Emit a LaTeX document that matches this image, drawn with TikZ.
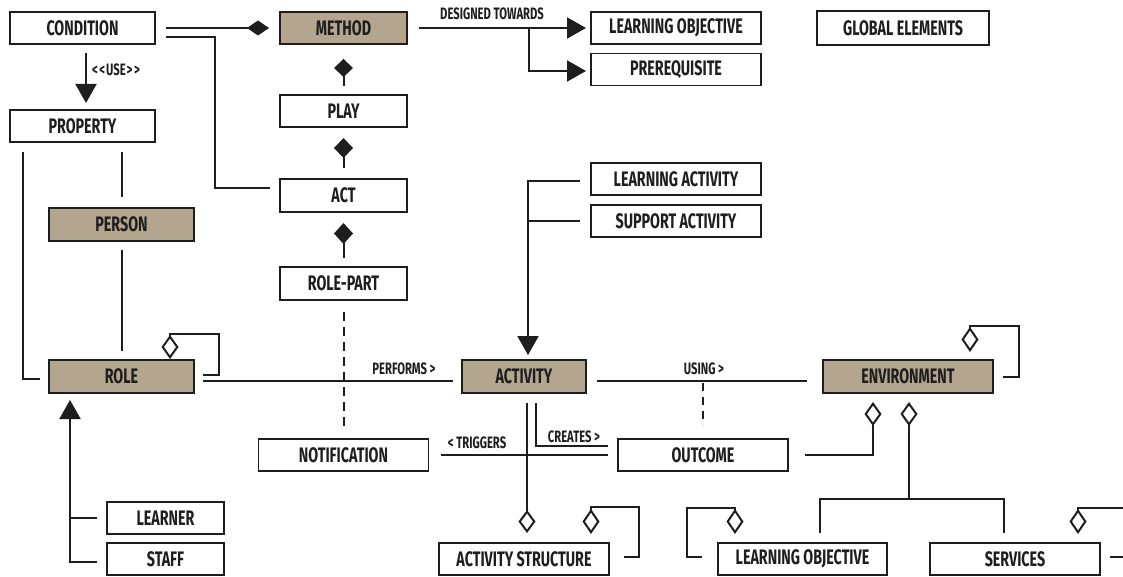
\documentclass[tikz,border=0pt]{standalone}
\usepackage{fontspec}
\usetikzlibrary{arrows.meta,calc}
\newfontfamily\cfont[FakeStretch=0.68]{Fira Sans}
\definecolor{tan}{RGB}{180,165,143}
\definecolor{ink}{RGB}{30,30,30}
\begin{document}
\begin{tikzpicture}[x=1pt,y=-1pt,
  box/.style={draw=ink, line width=1.9pt, fill=white, minimum height=32, inner sep=0, outer sep=0,
    font=\cfont\bfseries\fontsize{21}{21}\selectfont, text=ink},
  tanbox/.style={box, fill=tan},
  lbl/.style={font=\cfont\bfseries\fontsize{16.5}{16.5}\selectfont, inner sep=0, text=ink},
  conn/.style={draw=ink, line width=2pt},
  arr/.style={conn, -{Triangle[length=19pt,width=21pt]}}]
\useasboundingbox (0,0) rectangle (1123,577);
\clip (0,0) rectangle (1123,577);
\fill[white] (0,0) rectangle (1123,577);

% nodes
\node[box, minimum width=145] (cond) at (82.5,28) {CONDITION};
\node[tanbox, minimum width=127] (method) at (343.5,28) {METHOD};
\node[box, minimum width=127] (play) at (343.5,111) {PLAY};
\node[box, minimum width=145] (property) at (82.5,126) {PROPERTY};
\node[box, minimum width=170] (lo1) at (676,28) {LEARNING OBJECTIVE};
\node[box, minimum width=170] (pre) at (676,69.5) {PREREQUISITE};
\node[box, minimum width=172, minimum height=34] (global) at (903,28) {GLOBAL ELEMENTS};
\node[box, minimum width=127, minimum height=33] (act) at (343.5,195.5) {ACT};
\node[tanbox, minimum width=145, minimum height=33] (person) at (121.5,224.5) {PERSON};
\node[box, minimum width=127, minimum height=33] (rolepart) at (343.5,283.5) {ROLE-PART};
\node[tanbox, minimum width=145, minimum height=33] (role) at (121.5,376.5) {ROLE};
\node[box, minimum width=170] (la) at (676,179) {LEARNING ACTIVITY};
\node[box, minimum width=170] (sa) at (676,221) {SUPPORT ACTIVITY};
\node[tanbox, minimum width=124, minimum height=33] (activity) at (524,376.5) {ACTIVITY};
\node[tanbox, minimum width=170, minimum height=33] (env) at (908,376.5) {ENVIRONMENT};
\node[box, minimum width=170] (notif) at (343.5,455) {NOTIFICATION};
\node[box, minimum width=170] (outcome) at (703,455) {OUTCOME};
\node[box, minimum width=117] (learner) at (165.5,518) {LEARNER};
\node[box, minimum width=117] (staff) at (165.5,559) {STAFF};
\node[box, minimum width=170] (as) at (524,559) {ACTIVITY STRUCTURE};
\node[box, minimum width=169] (lo2) at (802.5,559) {LEARNING OBJECTIVE};
\node[box, minimum width=170] (sv) at (1015,559) {SERVICES};

% condition - method / act
\draw[conn, -{Diamond[length=22pt,width=15pt]}, shorten <=11pt, shorten >=11pt] (cond.east) -- (method.west);
\draw[conn] ($(cond.east)+(11,9)$) -- ++(49,0) |- ($(act.west)+(-10,-7.5)$);

% method - play - act - role-part
\draw[conn, {Diamond[length=18pt,width=19pt]}-, shorten <=15pt, shorten >=9pt] (method.south) -- (play.north);
\draw[conn, {Diamond[length=20pt,width=19pt]}-, shorten <=11pt, shorten >=11pt] (play.south) -- (act.north);
\draw[conn, {Diamond[length=21pt,width=19pt]}-, shorten <=11pt, shorten >=9pt] (act.south) -- (rolepart.north);
\draw[conn, dash pattern=on 9pt off 6pt, shorten <=12pt, shorten >=11pt] (rolepart.south) -- (notif.north);

% condition - property
\draw[arr, shorten <=9pt, shorten >=7pt] ($(cond.south)+(3.5,0)$) -- ($(property.north)+(3.5,0)$)
  node[lbl, anchor=west] at (91,70) {<\kern1.5pt<\kern1pt USE\kern1pt>\kern1.5pt>};

% property - role / person
\draw[conn] ($(property.south west)+(13,10)$) |- ($(role.west)+(-9,2.5)$);
\draw[conn, shorten <=10pt, shorten >=11pt] (property.south -| person.north) -- (person.north);
\draw[conn, shorten <=9pt, shorten >=9pt] (person.south) -- (role.north);

% role self
\draw[conn, -{Diamond[open,length=24pt,width=17pt]}] ($(role.east)+(9,-1.5)$) -- ++(16,0) |- ($(role.north)+(48.5,-26)$) -- ($(role.north)+(48.5,-1)$);

% role - activity
\draw[conn, shorten <=9pt, shorten >=9pt] ($(role.east)+(0,4.5)$) -- ($(activity.west)+(0,4.5)$)
  node[lbl] at (404,369) {PERFORMS >};

% learning / support activity - activity
\draw[arr, shorten >=5pt] ($(la.west)+(-11,2)$) -| ($(activity.north)+(4,0)$);
\draw[conn] ($(sa.west)+(-11,0)$) -- ($(sa.west)+(-63,0)$);

% activity - environment
\draw[conn, shorten <=11pt, shorten >=16pt] ($(activity.east)+(0,4.5)$) -- ($(env.west)+(0,4.5)$)
  node[lbl] at (704,369) {USING >};
\draw[conn, dash pattern=on 8pt off 6pt] ($(outcome.north)+(0,-56)$) -- ($(outcome.north)+(0,-14)$);

% activity - activity structure / outcome / notification
\draw[conn, -{Diamond[open,length=23pt,width=17pt]}, shorten <=10pt, shorten >=10pt] ($(activity.south)+(3,0)$) -- ($(as.north)+(3,0)$);
\draw[conn] ($(activity.south)+(12,10)$) |- ($(outcome.west)+(-10,-9)$)
  node[lbl] at (574,436.5) {CREATES >};
\draw[conn, shorten <=12pt, shorten >=10pt] (notif.east) -- (outcome.west)
  node[lbl] at (477,443) {< TRIGGERS};

% activity structure self
\draw[conn, -{Diamond[open,length=25pt,width=17pt]}] ($(as.east)+(15,-2)$) -- ++(15,0) |- ($(as.north)+(67,-36)$) -- ($(as.north)+(67,-9)$);

% outcome - environment
\draw[conn, -{Diamond[open,length=24pt,width=17pt]}] ($(outcome.east)+(17,0)$) -| ($(env.south)+(-35,9)$);

% environment - learning objective / services
\draw[conn] ($(lo2.north)+(17.5,-10)$) |- ($(sv.north)+(-11,-44)$) -- ($(sv.north)+(-11,-10)$);
\draw[conn, -{Diamond[open,length=24pt,width=17pt]}] ($(env.south)+(1,106)$) -- ($(env.south)+(1,9)$);

% environment self
\draw[conn, -{Diamond[open,length=25pt,width=17pt]}] ($(env.east)+(10,0.5)$) -- ++(16,0) |- ($(env.north)+(62,-34)$) -- ($(env.north)+(62,-8)$);

% learning objective self
\draw[conn, -{Diamond[open,length=25pt,width=17pt]}] ($(lo2.west)+(-16,-2)$) -- ++(-15,0) |- ($(lo2.north)+(-67.5,-35)$) -- ($(lo2.north)+(-67.5,-9)$);

% services self
\draw[conn, -{Diamond[open,length=25pt,width=17pt]}] ($(sv.east)+(10,-2)$) -- ++(40,0) |- ($(sv.north)+(63,-35)$) -- ($(sv.north)+(63,-9)$);

% method - learning objective / prerequisite
\draw[arr, shorten <=12pt, shorten >=5pt] (method.east) -- (lo1.west)
  node[lbl] at (492,14) {DESIGNED TOWARDS};
\draw[arr, shorten >=5pt] ($(method.east)+(122,0)$) |- ($(pre.west)+(0,1.5)$);

% learner / staff - role
\draw[arr, shorten >=7pt] ($(staff.west)+(-10,3)$) -| ($(role.south)+(-51.5,0)$);
\draw[conn] ($(learner.west)+(-10,0)$) -- ($(learner.west)+(-37,0)$);
\end{tikzpicture}
\end{document}
